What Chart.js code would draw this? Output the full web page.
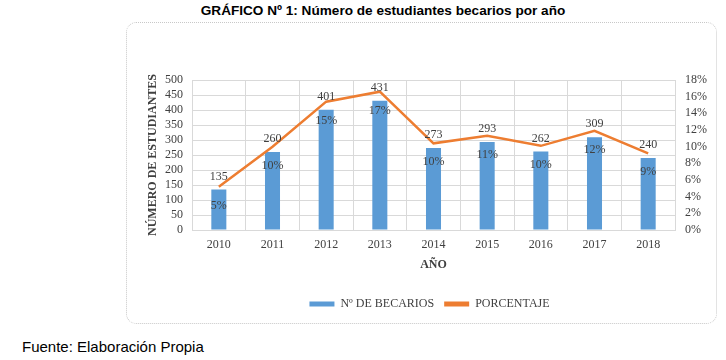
<!DOCTYPE html>
<html>
<head>
<meta charset="utf-8">
<script src="https://cdn.jsdelivr.net/npm/chart.js@4/dist/chart.umd.min.js"></script>
<style>
  body { margin:0; background:#fff; width:726px; height:360px; position:relative; overflow:hidden; }
  #title { position:absolute; left:0; width:766px; top:3px; text-align:center;
           font:bold 13.6px "Liberation Sans", Arial, sans-serif; color:#000; }
  #box { position:absolute; left:126px; top:22px; width:589px; height:300px;
         border:1px dotted #c8c8c8; border-radius:10px; }
  #box canvas { position:absolute; left:-1px; top:-1px; }
  #fuente { position:absolute; left:22px; top:338px; font:15px "Liberation Sans", Arial, sans-serif; color:#000; }
</style>
</head>
<body>
<div id="title">GRÁFICO Nº 1: Número de estudiantes becarios por año</div>
<div id="box"><canvas id="canvas" width="591" height="302"></canvas></div>
<div id="fuente">Fuente: Elaboración Propia</div>
<script>
// values
var years = ['2010','2011','2012','2013','2014','2015','2016','2017','2018'];
var becarios = [135, 260, 401, 431, 273, 293, 262, 309, 240];
var porcentaje = [5.2, 10.0, 15.4, 16.6, 10.4, 11.3, 10.1, 11.9, 9.2];

var blue = '#5B9BD5';
var orange = '#ED7D31';
var gridColor = '#d9d9d9';
var textColor = '#404040';

Chart.defaults.font.family = '"Liberation Serif", "Times New Roman", serif';
Chart.defaults.font.size = 12;
Chart.defaults.color = textColor;

//draws the value labels on the bars and the % labels under the line
var labelPlugin = {
    id: 'valueLabels',
    afterDatasetsDraw: function(chart) {
        var ctx = chart.ctx;
        var barMeta = chart.getDatasetMeta(0);
        var lineMeta = chart.getDatasetMeta(1);
        ctx.save();
        ctx.font = '12px "Liberation Serif", serif';
        ctx.fillStyle = textColor;
        ctx.textAlign = 'center';
        ctx.textBaseline = 'middle';
        for (var i = 0; i < years.length; i++) {
            var bar = barMeta.data[i];
            ctx.fillText(String(becarios[i]), bar.x, bar.y - 13);
            var pt = lineMeta.data[i];
            ctx.fillText(Math.round(porcentaje[i]) + '%', pt.x, pt.y + 19);
        }
        ctx.restore();
    }
};

var chart = new Chart(document.getElementById('canvas').getContext('2d'), {
    type: 'bar',
    data: {
        labels: years,
        datasets: [{
            type: 'bar',
            label: 'Nº DE BECARIOS',
            data: becarios,
            backgroundColor: blue,
            borderWidth: 0,
            categoryPercentage: 1,
            barPercentage: 0.28,
            yAxisID: 'y',
            order: 2
        }, {
            type: 'line',
            label: 'PORCENTAJE',
            data: porcentaje,
            borderColor: orange,
            backgroundColor: orange,
            borderWidth: 2.5,
            pointRadius: 0,
            tension: 0,
            yAxisID: 'y1',
            order: 1
        }]
    },
    options: {
        responsive: false,
        animation: false,
        layout: { padding: { left: 16, right: 0, top: 58, bottom: 4 } },
        plugins: {
            tooltip: { enabled: false },
            legend: {
                position: 'bottom',
                labels: {
                    boxWidth: 25,
                    boxHeight: 5,
                    padding: 10,
                    color: textColor,
                    sort: function(a, b) { return a.datasetIndex - b.datasetIndex; },
                    generateLabels: function(c) {
                        var items = Chart.defaults.plugins.legend.labels.generateLabels(c);
                        items.forEach(function(it) { it.lineWidth = 0; });
                        return items;
                    }
                }
            }
        },
        scales: {
            x: {
                grid: { color: gridColor, drawTicks: false, offset: true },
                border: { color: gridColor },
                ticks: { padding: 8, color: textColor },
                title: { display: true, text: 'AÑO', font: { weight: 'bold', size: 12 }, color: textColor,
                         padding: { top: 0, bottom: 16 } },
                afterFit: function(scale) { scale.height = 58; }
            },
            y: {
                position: 'left',
                min: 0, max: 500,
                grid: { color: gridColor, drawTicks: false },
                border: { color: gridColor },
                ticks: { stepSize: 50, padding: 9, autoSkip: false, color: textColor },
                title: { display: true, text: 'NÚMERO DE ESTUDIANTES', font: { weight: 'bold', size: 12 }, color: textColor,
                         padding: { top: 4, bottom: 0 } },
                afterFit: function(scale) { scale.width = 50; }
            },
            y1: {
                position: 'right',
                min: 0, max: 18,
                grid: { display: false, drawTicks: false },
                border: { display: false },
                ticks: { stepSize: 2, padding: 10, autoSkip: false, color: textColor,
                         callback: function(v) { return v + '%'; } },
                afterFit: function(scale) { scale.width = 42; }
            }
        }
    },
    plugins: [labelPlugin]
});
</script>
</body>
</html>
